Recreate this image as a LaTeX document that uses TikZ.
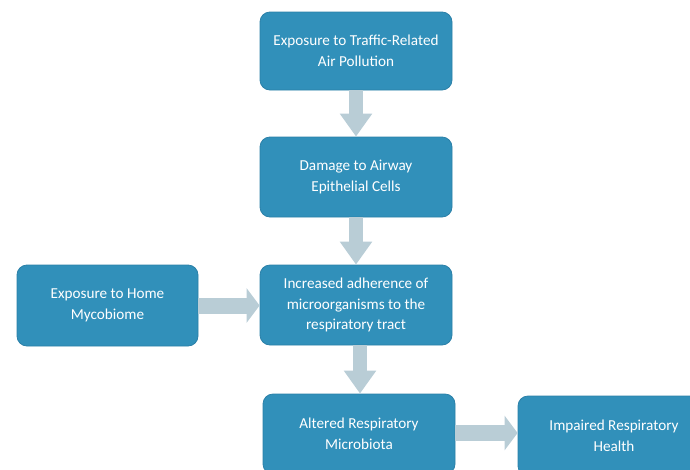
\documentclass[tikz,border=0pt]{standalone}
\usepackage{fontspec}
\setmainfont{Carlito}
\usetikzlibrary{arrows.meta,positioning}
\definecolor{boxblue}{HTML}{3190BA}
\definecolor{boxedge}{HTML}{2B80A8}
\definecolor{arrowgrey}{HTML}{B9CDD6}
\begin{document}
\begin{tikzpicture}[x=1pt,y=-1pt,
  flowbox/.style={rectangle, rounded corners=10pt, fill=boxblue, draw=boxedge, line width=0.8pt,
    text=white, align=center, font=\fontsize{15.2}{20.5}\selectfont,
    minimum width=192pt, minimum height=80pt, inner sep=2pt},
  vblock/.style={draw=arrowgrey, line width=14pt, -{Triangle[width=31pt,length=23pt]}},
  hblock/.style={draw=arrowgrey, line width=16pt, -{Triangle[width=34pt,length=13pt]}}
]
\useasboundingbox (0,0) rectangle (690,469);
\clip (0,0) rectangle (690,469);
\node[flowbox, minimum height=78pt] (b1) at (356,51) {Exposure to Traffic-Related\\Air Pollution};
\node[flowbox] (b2) at (356,177) {Damage to Airway\\Epithelial Cells};
\node[flowbox] (b3) at (356,305) {Increased adherence of\\microorganisms to the\\respiratory tract};
\node[flowbox, minimum width=181pt, minimum height=81pt] (bl) at (107.5,305.5) {Exposure to Home\\Mycobiome};
\node[flowbox] (b4) at (359,434) {Altered Respiratory\\Microbiota};
\node[flowbox] (b5) at (614,436) {Impaired Respiratory\\Health};
\draw[vblock] (b1.south) -- (b2.north);
\draw[vblock] (b2.south) -- (b3.north);
\draw[vblock] ([xshift=4pt]b3.south) -- ([xshift=1pt]b4.north);
\draw[hblock] (bl.east) -- (bl.east -| b3.west);
\draw[hblock] ([yshift=1pt]b4.east) -- ([yshift=1pt]b4.east -| b5.west);
\end{tikzpicture}
\end{document}
